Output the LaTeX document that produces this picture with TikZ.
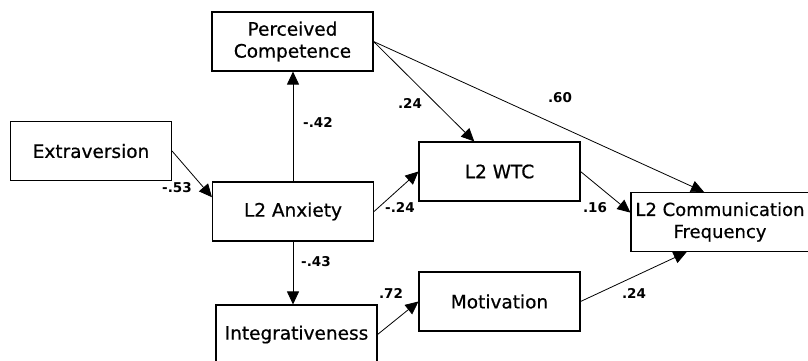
\documentclass[tikz,border=0pt]{standalone}
\usepackage{fontspec}
\setmainfont{DejaVu Sans}
\usepackage{tikz}
\usetikzlibrary{arrows.meta}

\begin{document}
\begin{tikzpicture}[x=1pt,y=-1pt,
    varbox/.style={draw,line width=1.1pt,minimum width=161pt,minimum height=59pt,
      inner sep=0pt,align=center,font=\fontsize{18.5}{22}\selectfont\addfontfeature{FakeBold=0.6}},
    link/.style={line width=0.8pt,-{Triangle[length=13pt,width=12pt]}},
    coef/.style={font=\bfseries\fontsize{13.5}{15}\selectfont}]
        % page frame, cut like the original
        \useasboundingbox (0,0) rectangle (808,360);
        \clip (0,0) rectangle (808,360);
        % variables
        \node[varbox] (pc) at (292.5,41.5) {Perceived\\Competence};
        \node[varbox] (ext) at (91,151) {Extraversion};
        \node[varbox] (anx) at (293,211.5) {L2 Anxiety};
        \node[varbox] (int) at (296.5,334.5) {Integrativeness};
        \node[varbox] (wtc) at (499.5,171.5) {L2 WTC};
        \node[varbox] (mot) at (499.5,301.5) {Motivation};
        \node[varbox,minimum width=178pt,font=\fontsize{18}{22}\selectfont\addfontfeature{FakeBold=0.6}]
          (freq) at (720,222) {L2 Communication\\Frequency};
        % paths
        \draw[link] (anx.north) -- (anx.north |- pc.south);
        \draw[link] (ext.east) -- (anx.170);
        \draw[link] (anx.east) -- (wtc.west);
        \draw[link] (anx.south) -- (anx.south |- int.north);
        \draw[link] (pc.east) -- (wtc.130);
        \draw[link] (pc.east) -- (freq.118);
        \draw[link] (wtc.east) -- (freq.174);
        \draw[link] (int.east) -- (mot.west);
        \draw[link] (mot.east) -- (freq.222);
        % path coefficients
        \node[coef] (c1) at (318,122) {-.42};
        \node[coef] (c2) at (177,188) {-.53};
        \node[coef] (c3) at (400,207) {-.24};
        \node[coef] (c4) at (316,262) {-.43};
        \node[coef] (c5) at (410,103) {.24};
        \node[coef] (c6) at (560,98) {.60};
        \node[coef] (c7) at (595,208) {.16};
        \node[coef] (c8) at (391,293) {.72};
        \node[coef] (c9) at (634,293) {.24};
      \end{tikzpicture}
\end{document}
